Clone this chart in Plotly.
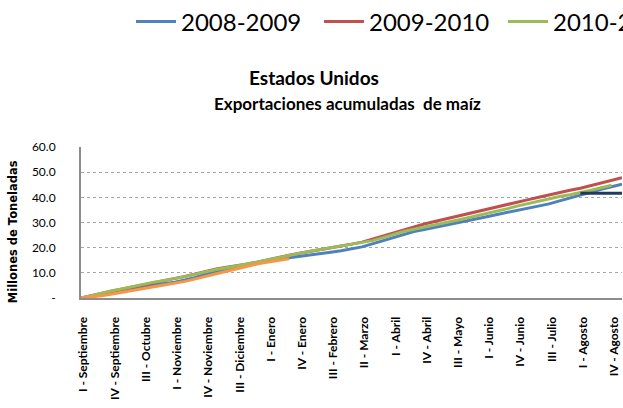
import plotly.graph_objects as go

# ---- data (millones de toneladas, acumulado semanal) ----
weeks = list(range(53))

tick_pos = [0, 3, 6, 9, 12, 15, 18, 21, 24, 27, 30, 33, 36, 39, 42, 45, 48, 51]
tick_labels = ["I - Septiembre", "IV - Septiembre", "III - Octubre", "I - Noviembre",
               "IV - Noviembre", "III - Diciembre", "I - Enero", "IV - Enero",
               "III - Febrero", "II - Marzo", "I - Abril", "IV - Abril", "III - Mayo",
               "I - Junio", "IV - Junio", "III - Julio", "I - Agosto", "IV - Agosto"]

s2008 = [0, 0.8, 1.7, 2.5, 3.3, 4.0, 4.6, 5.2, 5.8, 6.3, 7.2, 8.2, 9.6, 10.6, 11.6, 12.4,
         13.3, 14.1, 14.8, 15.4, 16.0, 16.5, 17.0, 17.6, 18.2, 18.8, 19.5, 20.3, 21.5,
         22.8, 24.0, 25.3, 26.4, 27.2, 28.0, 28.8, 29.7, 30.5, 31.4, 32.3, 33.2, 34.0,
         34.8, 35.6, 36.4, 37.4, 38.6, 39.8, 41.0, 42.1, 43.2, 44.2, 45.2]

s2009 = [0, 1.0, 1.9, 2.8, 3.6, 4.4, 5.3, 6.0, 6.8, 7.6, 8.6, 9.6, 10.6, 11.5, 12.2, 12.8,
         13.5, 14.3, 15.1, 16.0, 17.0, 17.8, 18.6, 19.3, 20.0, 20.7, 21.4, 22.2, 23.4,
         24.6, 26.0, 27.3, 28.4, 29.4, 30.4, 31.4, 32.4, 33.4, 34.3, 35.3, 36.3, 37.3,
         38.2, 39.1, 40.0, 41.0, 41.9, 42.8, 43.6, 44.6, 45.7, 46.8, 47.8]

s2010 = [0, 1.0, 2.0, 2.9, 3.7, 4.6, 5.5, 6.3, 7.0, 7.6, 8.5, 9.5, 10.5, 11.3, 12.0, 12.7,
         13.5, 14.3, 15.2, 16.1, 17.0, 17.9, 18.6, 19.3, 20.0, 20.6, 21.2, 21.8, 22.8,
         24.0, 25.3, 26.4, 27.3, 28.1, 29.0, 29.9, 30.8, 31.7, 32.6, 33.5, 34.5, 35.5,
         36.6, 37.6, 38.5, 39.4, 40.3, 41.0, 41.8, 42.8, 43.8, 44.8]

s2011 = [0, 0.4, 0.9, 1.6, 2.4, 3.1, 3.7, 4.5, 5.2, 5.8, 6.6, 7.6, 8.7, 9.6, 10.6, 11.6,
         12.7, 13.6, 14.3, 15.0, 15.6]

proj_weeks = [48, 49, 50, 51, 52]
proj_vals = [41.6, 41.6, 41.6, 41.6, 41.6]

y_ticks = [0, 10, 20, 30, 40, 50, 60]
y_ticktext = ["-", "10.0", "20.0", "30.0", "40.0", "50.0", "60.0"]

FONT = "Lato"

# plot area in pixels
PL, PR, PT, PB = 81, 622, 147, 298.5
PW, PH = PR - PL, PB - PT


def px_x(px):
    return (px - PL) / PW


def px_y(py):
    return (PB - py) / PH


fig = go.Figure()
fig.add_trace(go.Scatter(x=weeks[:len(s2008)], y=s2008, mode="lines", name="2008-2009",
                         line=dict(color="#4F81BD", width=3)))
fig.add_trace(go.Scatter(x=weeks[:len(s2009)], y=s2009, mode="lines", name="2009-2010",
                         line=dict(color="#C0504D", width=3)))
fig.add_trace(go.Scatter(x=weeks[:len(s2010)], y=s2010, mode="lines", name="2010-2011",
                         line=dict(color="#9BBB59", width=3), legend="legend2"))
fig.add_trace(go.Scatter(x=weeks[:len(s2011)], y=s2011, mode="lines", name="2011-2012",
                         line=dict(color="#F79646", width=3), showlegend=False))
fig.add_trace(go.Scatter(x=proj_weeks, y=proj_vals, mode="lines", name="Proyección",
                         line=dict(color="#1F3B5C", width=3), showlegend=False))

legend_common = dict(orientation="h", xref="container", xanchor="left",
                     y=1 - 22 / 408, yref="container", yanchor="middle",
                     font=dict(family=FONT, size=24, color="#000000"),
                     itemwidth=40, tracegroupgap=0, bgcolor="rgba(0,0,0,0)")

fig.update_layout(
    width=623, height=408,
    margin=dict(l=PL, r=623 - PR, t=PT, b=408 - PB, autoexpand=False),
    paper_bgcolor="white", plot_bgcolor="white",
    font=dict(family=FONT, color="#000000"),
    legend=dict(x=131 / 623, entrywidth=133, entrywidthmode="pixels", **legend_common),
    legend2=dict(x=503 / 623, **legend_common),
    showlegend=True,
)

# two-line chart title
fig.add_annotation(text="<b>Estados Unidos</b>", x=px_x(314), xref="paper",
                   y=px_y(77), yref="paper", showarrow=False,
                   xanchor="center", yanchor="middle",
                   font=dict(family=FONT, size=19, color="#000000"))
fig.add_annotation(text="<b>Exportaciones acumuladas  de maíz</b>", x=px_x(347),
                   xref="paper", y=px_y(103), yref="paper", showarrow=False,
                   xanchor="center", yanchor="middle",
                   font=dict(family=FONT, size=17, color="#000000"))

fig.update_xaxes(
    range=[0, 52], tickvals=[p + 0.25 for p in tick_pos], ticktext=tick_labels,
    tickangle=-90, tickfont=dict(family=FONT, size=12, color="#000000", weight="bold"),
    showgrid=False, zeroline=False, showline=True, linecolor="#8C8C8C", linewidth=2,
    ticks="", ticklabelstandoff=12, automargin=False,
)
fig.update_yaxes(
    range=[0, 60], tickvals=y_ticks, ticktext=y_ticktext,
    tickfont=dict(family=FONT, size=12, color="#000000"),
    showgrid=True, gridcolor="#A6A6A6", griddash="dot", gridwidth=1,
    zeroline=False, showline=True, linecolor="#8C8C8C", linewidth=2,
    ticks="", ticklabelstandoff=21, automargin=False,
)

fig.add_annotation(text="<b>Millones de Toneladas</b>", textangle=-90,
                   x=px_x(12.5), xref="paper", y=px_y(232), yref="paper",
                   showarrow=False, xanchor="center", yanchor="middle",
                   font=dict(family="DejaVu Sans", size=11.5, color="#000000"))

fig.write_html("out.html", config={"displayModeBar": False},
               post_script="document.body.style.margin='0';document.body.style.overflow='hidden';")
